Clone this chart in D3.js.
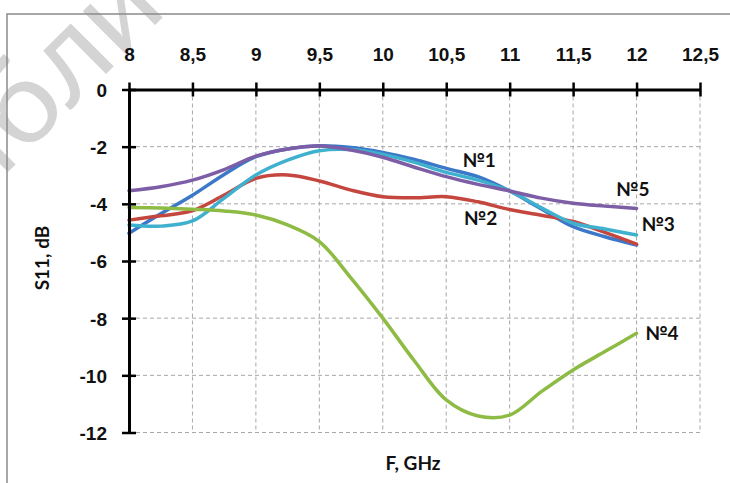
<!DOCTYPE html>
<html>
<head>
<meta charset="utf-8">
<script src="https://cdn.jsdelivr.net/npm/d3@7"></script>
<style>
  html, body { margin: 0; padding: 0; background: #fff; }
  svg { display: block; font-family: Lato, 'Open Sans', sans-serif; }
  .axis .domain { stroke: #000; stroke-width: 3px; }
  .axis .tick line { stroke: #000; stroke-width: 2.5px; }
  .axis text { font-size: 19px; font-weight: 700; fill: #111; }
  .grid line { stroke: #a8a8a8; stroke-width: 1px; stroke-dasharray: 4 3; }
  .series { fill: none; stroke-width: 3.5px; stroke-linecap: round; }
  .label { font-size: 19px; font-weight: 700; fill: #111; }
</style>
</head>
<body>
<div id="chart"></div>
<script>
// frequency, GHz
const freq = [8, 8.25, 8.5, 8.75, 9, 9.25, 9.5, 9.75, 10, 10.25, 10.5, 10.75, 11, 11.25, 11.5, 11.75, 12]

// S11, dB
const s1 = [-5.03, -4.35, -3.7, -2.97, -2.35, -2.08, -1.97, -2.03, -2.2, -2.45, -2.76, -3.05, -3.55, -4.18, -4.8, -5.15, -5.44]
const s2 = [-4.57, -4.42, -4.24, -3.69, -3.11, -2.99, -3.2, -3.52, -3.75, -3.79, -3.75, -3.93, -4.2, -4.4, -4.62, -5.0, -5.41]
const s3 = [-4.74, -4.78, -4.6, -3.8, -2.99, -2.47, -2.14, -2.1, -2.27, -2.55, -2.9, -3.17, -3.55, -4.14, -4.68, -4.88, -5.09]
const s4 = [-4.13, -4.15, -4.19, -4.25, -4.39, -4.74, -5.32, -6.6, -8.0, -9.5, -10.86, -11.42, -11.39, -10.57, -9.81, -9.17, -8.53]
const s5 = [-3.54, -3.4, -3.17, -2.8, -2.33, -2.08, -1.98, -2.12, -2.37, -2.72, -3.05, -3.32, -3.55, -3.8, -3.98, -4.08, -4.16]

const seriesNames = ['№1', '№2', '№3', '№4', '№5']
const seriesValues = [s1, s2, s3, s4, s5]
const seriesColors = ['#3b78c7', '#c4463f', '#3fb1cf', '#8dbb43', '#7d5ea6']
// where each name sits, in data units [GHz, dB]
const labelAt = [[10.76, -2.47], [10.77, -4.51], [12.17, -4.71], [12.2, -8.52], [11.97, -3.48]]

const xTickValues = [8, 8.5, 9, 9.5, 10, 10.5, 11, 11.5, 12, 12.5]
const yTickValues = [0, -2, -4, -6, -8, -10, -12]

const xTitle = 'F, GHz'
const yTitle = 'S11, dB'
const watermark = 'Библиотека БГУИР'

const width = 730
const height = 483

const svg = d3.select('#chart')
  .append('svg')
  .attr('width', width)
  .attr('height', height)

svg.append('text')
  .attr('transform', 'translate(-79,259) rotate(-45)')
  .style('font-size', '120px')
  .style('font-family', 'Lato, sans-serif')
  .style('fill', '#d4d4d4')
  .text(watermark)

// chart area frame
svg.append('rect')
  .attr('x', 7)
  .attr('y', 14)
  .attr('width', width)
  .attr('height', height)
  .attr('fill', 'none')
  .attr('stroke', '#8a8a8a')
  .attr('stroke-width', 1.5)

const xScale = d3.scaleLinear().domain([8, 12.5]).range([129, 700])
const yScale = d3.scaleLinear().domain([0, -12]).range([89.5, 432.5])

const fmt = (d) => String(d).replace('.', ',')

// grid
const grid = svg.append('g').attr('class', 'grid')
grid.selectAll('line.v')
  .data(xTickValues.slice(1))
  .enter().append('line')
  .attr('class', 'v')
  .attr('x1', (d) => xScale(d)).attr('x2', (d) => xScale(d))
  .attr('y1', yScale(0)).attr('y2', yScale(-12))
grid.selectAll('line.h')
  .data(yTickValues.slice(1))
  .enter().append('line')
  .attr('class', 'h')
  .attr('x1', xScale(8)).attr('x2', xScale(12.5))
  .attr('y1', (d) => yScale(d)).attr('y2', (d) => yScale(d))

// series
const line = d3.line()
  .x((d) => xScale(d[0]))
  .y((d) => yScale(d[1]))
  .curve(d3.curveCatmullRom.alpha(0.5))

svg.append('g')
  .selectAll('path')
  .data(seriesValues)
  .enter().append('path')
  .attr('class', 'series')
  .attr('stroke', (d, i) => seriesColors[i])
  .attr('d', (d) => line(d.map((v, j) => [freq[j], v])))

// axes
const xAxis = d3.axisTop(xScale)
  .tickValues(xTickValues)
  .tickFormat(fmt)
  .tickSizeInner(7)
  .tickSizeOuter(0)

const yAxis = d3.axisLeft(yScale)
  .tickValues(yTickValues)
  .tickFormat(fmt)
  .tickSizeInner(7)
  .tickSizeOuter(0)

const gx = svg.append('g')
  .attr('class', 'axis x')
  .attr('transform', `translate(0,${yScale(0)})`)
  .call(xAxis)
gx.selectAll('.tick line').attr('y1', -7).attr('y2', 7)
gx.selectAll('.tick text').attr('y', -35).attr('dy', '0.36em')

const gy = svg.append('g')
  .attr('class', 'axis y')
  .attr('transform', `translate(${xScale(8)},0)`)
  .call(yAxis)
gy.selectAll('.tick line').attr('x1', -7).attr('x2', 7)
gy.selectAll('.tick text').attr('x', -22).attr('dy', '0.36em')

// axis titles
svg.append('text')
  .attr('class', 'label')
  .attr('text-anchor', 'middle')
  .attr('transform', 'translate(42,258) rotate(-90)')
  .attr('dy', '0.36em')
  .text(yTitle)

svg.append('text')
  .attr('class', 'label')
  .attr('text-anchor', 'middle')
  .attr('x', 413)
  .attr('y', 463)
  .attr('dy', '0.36em')
  .text(xTitle)

// series names
svg.append('g')
  .selectAll('text')
  .data(seriesNames)
  .enter().append('text')
  .attr('class', 'label')
  .attr('text-anchor', 'middle')
  .attr('x', (d, i) => xScale(labelAt[i][0]))
  .attr('y', (d, i) => yScale(labelAt[i][1]))
  .attr('dy', '0.36em')
  .text((d) => d)
</script>
</body>
</html>
